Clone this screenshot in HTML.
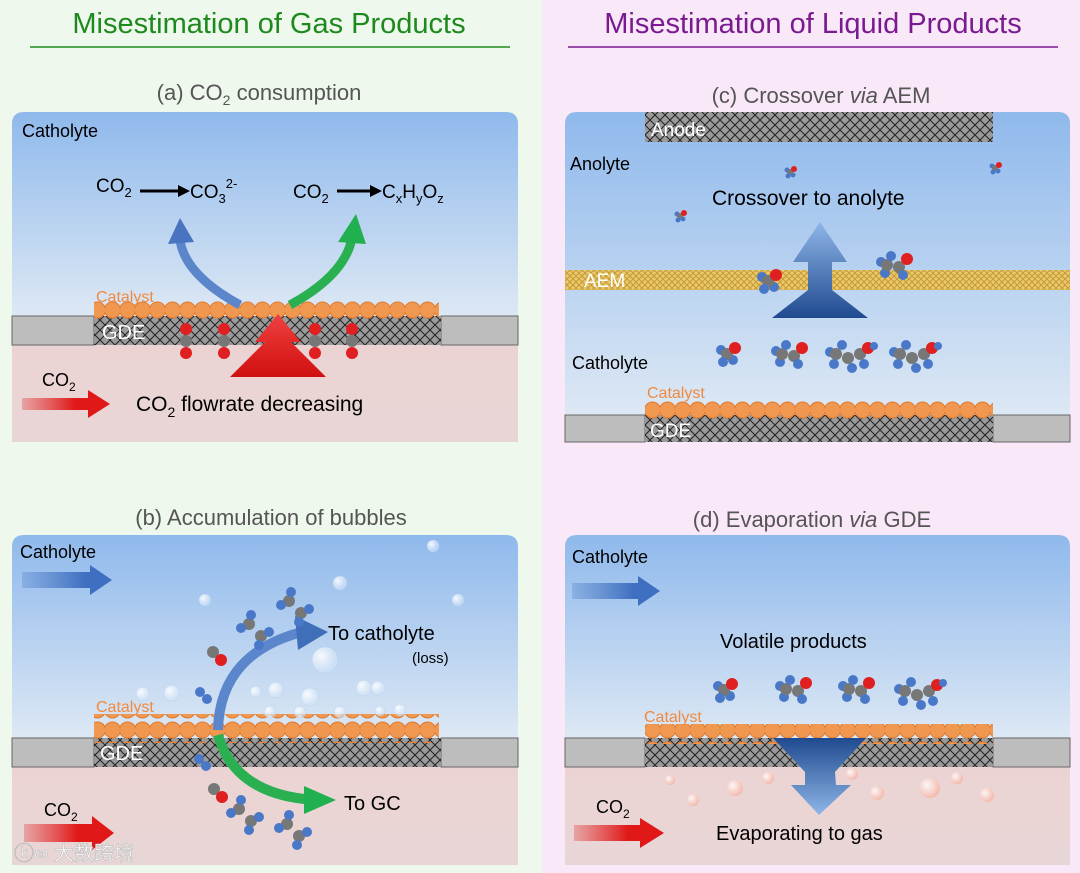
<!DOCTYPE html>
<html><head><meta charset="utf-8"><style>
html,body{margin:0;padding:0;width:1080px;height:873px;overflow:hidden;font-family:"Liberation Sans",sans-serif}
</style></head><body>
<svg width="1080" height="873" viewBox="0 0 1080 873" xmlns="http://www.w3.org/2000/svg" font-family="Liberation Sans, sans-serif">
<defs>
 <linearGradient id="liq" x1="0" y1="0" x2="0" y2="1"><stop offset="0" stop-color="#8fb9ec"/><stop offset="1" stop-color="#dde8f4"/></linearGradient>
 <linearGradient id="gas" x1="0" y1="0" x2="0" y2="1"><stop offset="0" stop-color="#ecd3d3"/><stop offset="1" stop-color="#e8d6d6"/></linearGradient>
 <linearGradient id="redA" x1="0" y1="0" x2="1" y2="0"><stop offset="0" stop-color="#e23030" stop-opacity="0.3"/><stop offset="0.6" stop-color="#e01818"/></linearGradient>
 <linearGradient id="blueA" x1="0" y1="0" x2="1" y2="0"><stop offset="0" stop-color="#4f7fc8" stop-opacity="0.3"/><stop offset="0.7" stop-color="#3f6fc0"/></linearGradient>
 <linearGradient id="upBlue" x1="0" y1="1" x2="0" y2="0"><stop offset="0" stop-color="#1f4a8f"/><stop offset="1" stop-color="#8fb6e8"/></linearGradient>
 <linearGradient id="downBlue" x1="0" y1="0" x2="0" y2="1"><stop offset="0" stop-color="#1f4a8f"/><stop offset="1" stop-color="#8fb6e8"/></linearGradient>
 <linearGradient id="upRed" x1="0" y1="1" x2="0" y2="0"><stop offset="0" stop-color="#d01010"/><stop offset="1" stop-color="#f04040"/></linearGradient>
 <pattern id="mesh" width="10" height="10" patternUnits="userSpaceOnUse"><rect width="10" height="10" fill="#9a9a9a"/><path d="M0 0L10 10M10 0L0 10" stroke="#222" stroke-width="1"/></pattern>
 <pattern id="aem" width="6" height="6" patternUnits="userSpaceOnUse"><rect width="6" height="6" fill="#e8c870"/><path d="M0 0L6 6M6 0L0 6" stroke="#c89a30" stroke-width="1"/></pattern>
 <pattern id="cat" width="15" height="20" patternUnits="userSpaceOnUse"><circle cx="7.5" cy="10" r="8" fill="#f09850" stroke="#e07a30" stroke-width="1"/></pattern>
 <radialGradient id="bub" cx="0.35" cy="0.35" r="0.7"><stop offset="0" stop-color="#ffffff" stop-opacity="0.9"/><stop offset="1" stop-color="#cfe2f7" stop-opacity="0.5"/></radialGradient>
 <radialGradient id="pbub" cx="0.35" cy="0.35" r="0.7"><stop offset="0" stop-color="#fff" stop-opacity="0.8"/><stop offset="1" stop-color="#f5b0a0" stop-opacity="0.8"/></radialGradient>
 <g id="co2v"><circle cx="0" cy="-12" r="6" fill="#e02020"/><circle cx="0" cy="0" r="6" fill="#777"/><circle cx="0" cy="12" r="6" fill="#e02020"/></g>
 <g id="mol1"><circle cx="-6" cy="-4" r="5" fill="#4a78c8"/><circle cx="6" cy="6" r="5" fill="#4a78c8"/><circle cx="0" cy="0" r="6" fill="#777"/><circle cx="8" cy="-6" r="6" fill="#e02020"/><circle cx="-4" cy="8" r="5" fill="#4a78c8"/></g>
 <g id="mol2"><circle cx="-12" cy="-3" r="5" fill="#4a78c8"/><circle cx="-8" cy="8" r="5" fill="#4a78c8"/><circle cx="-6" cy="0" r="6" fill="#777"/><circle cx="6" cy="2" r="6" fill="#777"/><circle cx="14" cy="-6" r="6" fill="#e02020"/><circle cx="10" cy="10" r="5" fill="#4a78c8"/><circle cx="-2" cy="-9" r="5" fill="#4a78c8"/></g>
 <g id="mol3"><circle cx="-18" cy="-2" r="5" fill="#4a78c8"/><circle cx="-12" cy="0" r="6" fill="#777"/><circle cx="0" cy="4" r="6" fill="#777"/><circle cx="12" cy="0" r="6" fill="#777"/><circle cx="20" cy="-6" r="6" fill="#e02020"/><circle cx="-6" cy="-9" r="5" fill="#4a78c8"/><circle cx="4" cy="14" r="5" fill="#4a78c8"/><circle cx="16" cy="10" r="5" fill="#4a78c8"/><circle cx="-14" cy="10" r="5" fill="#4a78c8"/><circle cx="26" cy="-8" r="4" fill="#4a78c8"/></g>
 <g id="eth"><circle cx="-6" cy="-6" r="6" fill="#777"/><circle cx="6" cy="6" r="6" fill="#777"/><circle cx="-14" cy="-2" r="5" fill="#4a78c8"/><circle cx="-4" cy="-15" r="5" fill="#4a78c8"/><circle cx="14" cy="2" r="5" fill="#4a78c8"/><circle cx="4" cy="15" r="5" fill="#4a78c8"/></g>
 <g id="co"><circle cx="-4" cy="-4" r="6" fill="#777"/><circle cx="4" cy="4" r="6" fill="#e02020"/></g>
 <g id="h2"><circle cx="-3" cy="-3" r="5" fill="#4a78c8"/><circle cx="4" cy="4" r="5" fill="#4a78c8"/></g>
</defs>

<rect x="0" y="0" width="542" height="873" fill="#eef8ec"/>
<rect x="542" y="0" width="538" height="873" fill="#f9e8f8"/>

<text x="269" y="33" font-size="29" fill="#1e8a1e" text-anchor="middle">Misestimation of Gas Products</text>
<line x1="30" y1="47" x2="510" y2="47" stroke="#1e8a1e" stroke-width="1.5"/>
<text x="813" y="33" font-size="29" fill="#7a1a90" text-anchor="middle">Misestimation of Liquid Products</text>
<line x1="568" y1="47" x2="1058" y2="47" stroke="#7a1a90" stroke-width="1.5"/>

<!-- Panel a -->
<text x="259" y="100" font-size="22" fill="#555" text-anchor="middle">(a) CO<tspan font-size="14" dy="5">2</tspan><tspan dy="-5"> consumption</tspan></text>
<path d="M12 124 Q12 112 24 112 L506 112 Q518 112 518 124 L518 316 L12 316Z" fill="url(#liq)"/>
<rect x="12" y="345" width="506" height="97" fill="url(#gas)"/>
<rect x="12" y="316" width="82" height="29" fill="#bdbdbd" stroke="#666"/>
<rect x="441" y="316" width="77" height="29" fill="#bdbdbd" stroke="#666"/>
<rect x="94" y="316" width="347" height="29" fill="url(#mesh)"/>
<rect x="94" y="300" width="345" height="20" fill="url(#cat)"/>
<text x="22" y="137" font-size="18">Catholyte</text>
<text x="96" y="192" font-size="19" fill="#444" font-weight="bold" style="fill:#000;font-weight:normal">CO<tspan font-size="13" dy="5">2</tspan></text>
<line x1="140" y1="191" x2="180" y2="191" stroke="#000" stroke-width="3"/><path d="M178 185L190 191L178 197Z"/>
<text x="190" y="198" font-size="19">CO<tspan font-size="13" dy="5">3</tspan><tspan font-size="13" dy="-15">2-</tspan></text>
<text x="293" y="198" font-size="19">CO<tspan font-size="13" dy="5">2</tspan></text>
<line x1="337" y1="191" x2="372" y2="191" stroke="#000" stroke-width="3"/><path d="M370 185L382 191L370 197Z"/>
<text x="382" y="198" font-size="19">C<tspan font-size="13" dy="5">x</tspan><tspan dy="-5">H</tspan><tspan font-size="13" dy="5">y</tspan><tspan dy="-5">O</tspan><tspan font-size="13" dy="5">z</tspan></text>
<path d="M240 305 Q185 275 180 240" fill="none" stroke="#5b86cc" stroke-width="9"/><path d="M168 244L180 218L194 242Z" fill="#4a74c0"/>
<path d="M290 305 Q345 275 352 238" fill="none" stroke="#2ab050" stroke-width="9"/><path d="M338 242L356 214L366 244Z" fill="#20b050"/>
<text x="96" y="302" font-size="16" fill="#f08a40">Catalyst</text>
<text x="102" y="339" font-size="20" fill="#fff">GDE</text>
<use href="#co2v" x="186" y="341"/><use href="#co2v" x="224" y="341"/><use href="#co2v" x="315" y="341"/><use href="#co2v" x="352" y="341"/>
<path d="M230 377 L265 342 L255 342 L278 314 L301 342 L291 342 L326 377 Z" fill="url(#upRed)"/>
<text x="42" y="386" font-size="18">CO<tspan font-size="12" dy="5">2</tspan></text>
<path d="M22 398 L88 398 L88 390 L110 404 L88 418 L88 410 L22 410Z" fill="url(#redA)"/>
<text x="136" y="411" font-size="21">CO<tspan font-size="14" dy="6">2</tspan><tspan dy="-6"> flowrate decreasing</tspan></text>

<!-- Panel b -->
<text x="271" y="525" font-size="22" fill="#555" text-anchor="middle">(b) Accumulation of bubbles</text>
<path d="M12 547 Q12 535 24 535 L506 535 Q518 535 518 547 L518 738 L12 738Z" fill="url(#liq)"/>
<rect x="12" y="767" width="506" height="98" fill="url(#gas)"/>
<rect x="12" y="738" width="82" height="29" fill="#bdbdbd" stroke="#666"/>
<rect x="441" y="738" width="77" height="29" fill="#bdbdbd" stroke="#666"/>
<rect x="94" y="738" width="347" height="29" fill="url(#mesh)"/>
<rect x="94" y="714" width="345" height="20" fill="url(#cat)"/>
<rect x="94" y="723" width="345" height="20" fill="url(#cat)"/>
<g fill="url(#bub)" stroke="#b8d2ee" stroke-width="0.5">
<circle cx="433" cy="546" r="6"/><circle cx="340" cy="583" r="7"/><circle cx="205" cy="600" r="6"/><circle cx="458" cy="600" r="6"/><circle cx="325" cy="660" r="13"/><circle cx="276" cy="690" r="8"/><circle cx="364" cy="688" r="8"/><circle cx="310" cy="697" r="9"/><circle cx="256" cy="692" r="6"/><circle cx="378" cy="688" r="7"/><circle cx="172" cy="693" r="8"/><circle cx="143" cy="694" r="7"/><circle cx="270" cy="712" r="6"/><circle cx="300" cy="712" r="6"/><circle cx="340" cy="712" r="6"/><circle cx="400" cy="710" r="6"/><circle cx="380" cy="711" r="5"/>
</g>
<text x="20" y="558" font-size="18">Catholyte</text>
<path d="M22 572 L90 572 L90 565 L112 580 L90 595 L90 588 L22 588Z" fill="url(#blueA)"/>
<path d="M218 730 Q220 650 310 630" fill="none" stroke="#5b86cc" stroke-width="10"/><path d="M295 616L328 632L298 650Z" fill="#3f6fb8"/>
<path d="M218 735 Q235 795 315 800" fill="none" stroke="#2ab050" stroke-width="10"/><path d="M304 786L336 800L304 814Z" fill="#20b050"/>
<use href="#eth" x="295" y="607"/><use href="#eth" x="255" y="630"/><use href="#co" x="217" y="656"/><use href="#h2" x="203" y="695"/><use href="#h2" x="202" y="762"/><use href="#co" x="218" y="793"/><use href="#eth" x="245" y="815"/><use href="#eth" x="293" y="830"/>
<text x="328" y="640" font-size="20">To catholyte</text>
<text x="412" y="663" font-size="15">(loss)</text>
<text x="96" y="712" font-size="16" fill="#f08a40">Catalyst</text>
<text x="100" y="760" font-size="20" fill="#fff">GDE</text>
<text x="344" y="810" font-size="20">To GC</text>
<text x="44" y="816" font-size="18">CO<tspan font-size="12" dy="5">2</tspan></text>
<path d="M24 824 L92 824 L92 816 L114 833 L92 850 L92 842 L24 842Z" fill="url(#redA)"/>
<text x="14" y="860" font-size="20" fill="#fff" stroke="#bbb" stroke-width="0.6" font-family="Liberation Sans, Noto Sans CJK SC, sans-serif">ⓚ∞ 大数跨境</text>

<!-- Panel c -->
<text x="821" y="103" font-size="22" fill="#555" text-anchor="middle">(c) Crossover <tspan font-style="italic">via</tspan> AEM</text>
<path d="M565 124 Q565 112 577 112 L1058 112 Q1070 112 1070 124 L1070 415 L565 415Z" fill="url(#liq)"/>
<rect x="645" y="112" width="348" height="30" fill="url(#mesh)"/>
<text x="651" y="136" font-size="19" fill="#fff">Anode</text>
<rect x="565" y="270" width="505" height="20" fill="url(#aem)"/>
<text x="584" y="287" font-size="19" fill="#fff">AEM</text>
<text x="570" y="170" font-size="18">Anolyte</text>
<text x="712" y="205" font-size="21">Crossover to anolyte</text>
<path d="M772 318 L808 290 L808 262 L793 262 L820 222 L847 262 L832 262 L832 290 L868 318Z" fill="url(#upBlue)"/>
<g transform="translate(790,172) scale(0.5)"><use href="#mol1"/></g>
<g transform="translate(680,216) scale(0.5)"><use href="#mol1"/></g>
<g transform="translate(995,168) scale(0.5)"><use href="#mol1"/></g>
<use href="#mol1" x="768" y="281"/><use href="#mol2" x="893" y="265"/>
<text x="572" y="369" font-size="18">Catholyte</text>
<use href="#mol1" x="727" y="354"/><use href="#mol2" x="788" y="354"/><use href="#mol3" x="848" y="354"/><use href="#mol3" x="912" y="354"/>
<text x="647" y="398" font-size="16" fill="#f08a40">Catalyst</text>
<rect x="565" y="415" width="80" height="27" fill="#bdbdbd" stroke="#666"/>
<rect x="993" y="415" width="77" height="27" fill="#bdbdbd" stroke="#666"/>
<rect x="645" y="415" width="348" height="27" fill="url(#mesh)"/>
<rect x="645" y="400" width="348" height="20" fill="url(#cat)"/>
<text x="650" y="437" font-size="19" fill="#fff">GDE</text>

<!-- Panel d -->
<text x="812" y="527" font-size="22" fill="#555" text-anchor="middle">(d) Evaporation <tspan font-style="italic">via</tspan> GDE</text>
<path d="M565 547 Q565 535 577 535 L1058 535 Q1070 535 1070 547 L1070 738 L565 738Z" fill="url(#liq)"/>
<rect x="565" y="767" width="505" height="98" fill="url(#gas)"/>
<rect x="565" y="738" width="80" height="29" fill="#bdbdbd" stroke="#666"/>
<rect x="993" y="738" width="77" height="29" fill="#bdbdbd" stroke="#666"/>
<rect x="645" y="738" width="348" height="29" fill="url(#mesh)"/>
<rect x="645" y="724" width="348" height="20" fill="url(#cat)"/>
<text x="572" y="563" font-size="18">Catholyte</text>
<path d="M572 583 L638 583 L638 576 L660 591 L638 606 L638 599 L572 599Z" fill="url(#blueA)"/>
<text x="720" y="648" font-size="20">Volatile products</text>
<use href="#mol1" x="724" y="690"/><use href="#mol2" x="792" y="689"/><use href="#mol2" x="855" y="689"/><use href="#mol3" x="917" y="691"/>
<text x="644" y="722" font-size="16" fill="#f08a40">Catalyst</text>
<g fill="url(#pbub)"><circle cx="670" cy="780" r="5"/><circle cx="693" cy="800" r="6"/><circle cx="735" cy="788" r="8"/><circle cx="768" cy="778" r="6"/><circle cx="852" cy="774" r="6"/><circle cx="877" cy="793" r="7"/><circle cx="930" cy="788" r="10"/><circle cx="957" cy="778" r="6"/><circle cx="987" cy="795" r="7"/><circle cx="700" cy="760" r="0"/></g>
<path d="M773 738 L866 738 L835 772 L836 785 L851 785 L819 815 L791 785 L805 785 L805 772Z" fill="url(#downBlue)"/>
<text x="596" y="813" font-size="18">CO<tspan font-size="12" dy="5">2</tspan></text>
<path d="M574 825 L640 825 L640 818 L664 833 L640 848 L640 841 L574 841Z" fill="url(#redA)"/>
<text x="716" y="840" font-size="20">Evaporating to gas</text>
</svg>
</body></html>
